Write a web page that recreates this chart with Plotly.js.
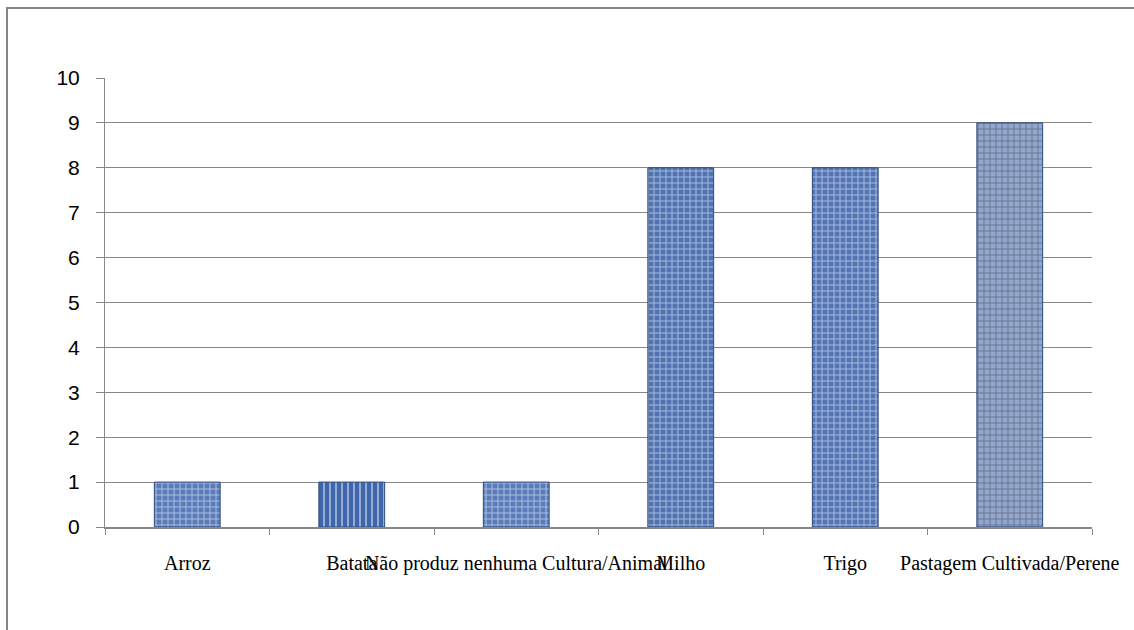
<!DOCTYPE html>
<html>
<head>
<meta charset="utf-8">
<script src="https://cdn.plot.ly/plotly-3.0.1.min.js"></script>
<style>html,body{margin:0;padding:0;background:#fff;}#chart{width:1134px;height:630px;}</style>
</head>
<body>
<div id="chart"></div>
<script>
const categories = ["Arroz", "Batata", "Não produz nenhuma Cultura/Animal", "Milho", "Trigo", "Pastagem Cultivada/Perene"];
const values = [1, 1, 1, 8, 8, 9];
const yTickValues = [0, 1, 2, 3, 4, 5, 6, 7, 8, 9, 10];

const barBg = ["#5a7cba", "#3f66ab", "#5a7cba", "#5073b2", "#5375b6", "#92a7cf"];
const barFg = ["#b4cbee", "#c6d8f2", "#aac2ea", "#aac3ec", "#a7bfe8", "#c8d4ea"];
const barShape = ["+", "|", "+", "+", "+", "+"];

const trace = {
  type: "bar",
  x: categories,
  y: values,
  width: 0.4,
  marker: {
    color: barBg,
    line: {color: "#2c4a7e", width: 1},
    pattern: {shape: barShape, fillmode: "overlay", fgcolor: barFg, fgopacity: 0.5, size: 6, solidity: 0.3}
  },
  hoverinfo: "x+y"
};

const W = 1134, H = 630;
const L = 105, R = 42, T = 78, B = 103;
const pw = W - L - R, ph = H - T - B;
const px = v => (v - L) / pw;
const py = v => (H - B - v) / ph;

const layout = {
  width: W, height: H,
  margin: {l: L, r: R, t: T, b: B, pad: 0},
  paper_bgcolor: "#ffffff",
  plot_bgcolor: "#ffffff",
  showlegend: false,
  xaxis: {
    type: "category",
    tickangle: 0,
    ticks: "outside",
    tickson: "boundaries",
    ticklen: 6,
    tickcolor: "#888888",
    showline: true,
    linecolor: "#888888",
    linewidth: 2,
    showgrid: false,
    ticklabelstandoff: 17,
    tickfont: {family: "Liberation Serif, Times New Roman, serif", size: 20, color: "#000000"}
  },
  yaxis: {
    range: [0, 10],
    tickvals: yTickValues,
    ticktext: yTickValues.map(String),
    ticks: "outside",
    ticklen: 8,
    tickcolor: "#888888",
    showline: true,
    linecolor: "#888888",
    linewidth: 1,
    showgrid: true,
    gridcolor: "#888888",
    gridwidth: 1,
    zeroline: false,
    ticklabelstandoff: 12,
    tickfont: {family: "Liberation Sans, Arial, sans-serif", size: 21, color: "#000000"}
  },
  shapes: [
    {type: "rect", xref: "paper", yref: "paper", x0: px(7), x1: px(1200), y0: py(700), y1: py(8),
     line: {color: "#868686", width: 2}, fillcolor: "rgba(0,0,0,0)", layer: "below"}
  ]
};

Plotly.newPlot("chart", [trace], layout, {displayModeBar: false, staticPlot: true});
</script>
</body>
</html>
